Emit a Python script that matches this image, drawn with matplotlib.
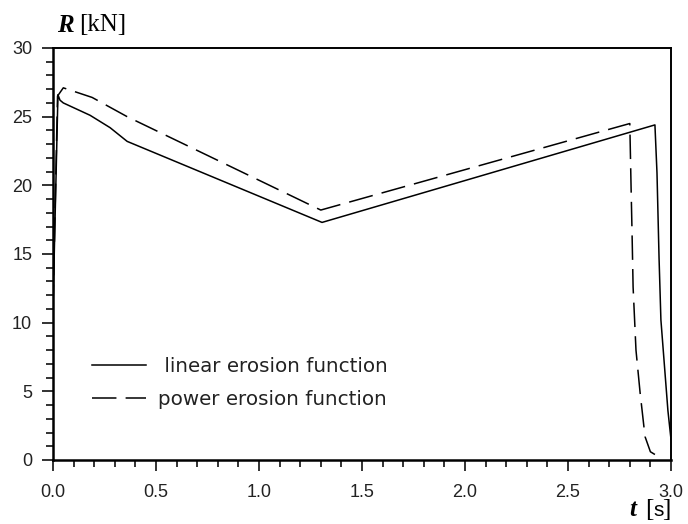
import matplotlib
matplotlib.use("Agg")
import matplotlib.pyplot as plt
from matplotlib.ticker import MultipleLocator

# data
t_linear = [0.0, 0.024, 0.034, 0.05, 0.18, 0.277, 0.36, 1.306, 2.922, 2.932, 2.942, 2.951, 2.985, 3.0]
R_linear = [11.1, 26.6, 26.2, 26.0, 25.1, 24.2, 23.2, 17.3, 24.4, 20.9, 14.7, 10.2, 3.6, 1.5]

t_power = [0.0, 0.022, 0.05, 0.19, 0.36, 1.30, 2.74, 2.80, 2.806, 2.811, 2.816, 2.83, 2.85, 2.874, 2.90, 2.922]
R_power = [11.0, 26.5, 27.1, 26.4, 25.0, 18.2, 24.25, 24.5, 20.0, 16.5, 12.6, 8.0, 4.9, 1.7, 0.6, 0.4]

labels = [" linear erosion function", "power erosion function"]

plt.rcParams['font.family'] = ['Liberation Sans', 'DejaVu Sans']

fig = plt.figure(figsize=(6.88, 5.24), dpi=100)
ax = fig.add_axes([53/688, 64/524, 618/688, 412/524])

ax.plot(t_linear, R_linear, color='black', lw=1.1, label=labels[0])
ax.plot(t_power, R_power, color='black', lw=1.1, linestyle=(0, (16, 6)), label=labels[1])

ax.set_xlim(0, 3.0)
ax.set_ylim(0, 30)
ax.xaxis.set_major_locator(MultipleLocator(0.5))
ax.xaxis.set_minor_locator(MultipleLocator(0.1))
ax.yaxis.set_major_locator(MultipleLocator(5))
ax.yaxis.set_minor_locator(MultipleLocator(1))
ax.xaxis.set_major_formatter(plt.FuncFormatter(lambda v, p: f"{v:.1f}"))
ax.yaxis.set_major_formatter(plt.FuncFormatter(lambda v, p: f"{v:.0f}"))

ax.tick_params(which='both', direction='out', top=False, right=False, colors='#222222',
               labelsize=13, width=1.3)
ax.tick_params(which='major', length=8)
ax.tick_params(which='minor', length=5)
ax.tick_params(axis='y', which='major', pad=7)
ax.tick_params(axis='x', which='major', pad=9)

for s in ['left', 'bottom']:
    ax.spines[s].set_linewidth(1.8)
for s in ['top', 'right']:
    ax.spines[s].set_linewidth(1.4)

leg = ax.legend(loc='upper left', bbox_to_anchor=(39/618, 103/412), frameon=False,
                prop={'family': 'DejaVu Sans', 'size': 14.3},
                handlelength=2.7, handletextpad=0.6, labelspacing=0.7,
                borderaxespad=0, borderpad=0)
for txt in leg.get_texts():
    txt.set_color('#222222')

fig.text(57/688, 1 - 25/524, "R", fontsize=18, fontweight='bold', fontstyle='italic',
         family='Liberation Serif', ha='left', va='center')
fig.text(79/688, 1 - 25/524, "[kN]", fontsize=18, family='Liberation Serif',
         ha='left', va='center')
fig.text(629/688, 1 - 510/524, "t", fontsize=18, fontweight='bold', fontstyle='italic',
         family='Liberation Serif', ha='left', va='center')
fig.text(645/688, 1 - 510/524, "[", fontsize=18, family='Liberation Serif',
         ha='left', va='center')
fig.text(653/688, 1 - 511/524, "s", fontsize=15, family='Liberation Sans',
         ha='left', va='center')
fig.text(662/688, 1 - 510/524, "]", fontsize=18, family='Liberation Serif',
         ha='left', va='center')

fig.savefig("out.png", dpi=100)
